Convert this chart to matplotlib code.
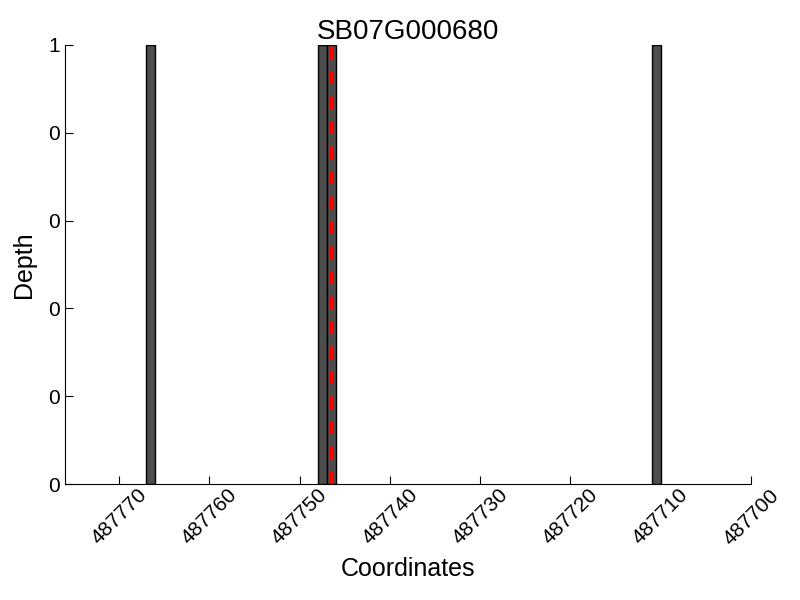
import matplotlib
matplotlib.use("Agg")
import matplotlib.pyplot as plt
from matplotlib.ticker import FormatStrFormatter

plt.rcParams["font.family"] = ["Liberation Sans", "DejaVu Sans"]

# datos
title = "SB07G000680"
positions = [487766, 487747, 487746, 487710]
depths = [1, 1, 1, 1]
marker_pos = 487746.5
x_ticks = [487770, 487760, 487750, 487740, 487730, 487720, 487710, 487700]
y_ticks = [0, 0.2, 0.4, 0.6, 0.8, 1.0]

fig = plt.figure(figsize=(8, 6), dpi=100)
ax = fig.add_axes([0.08125, 0.1933, 0.8575, 0.7317])

ax.bar(positions, depths, width=1, align="edge", color="#4d4d4d",
       edgecolor="black", linewidth=1)
ax.axvline(marker_pos, color="red", linestyle=(0, (3, 3)), linewidth=3)

ax.set_xlim(487776, 487700)
ax.set_ylim(0, 1)
ax.set_xticks(x_ticks)
ax.set_xticklabels([str(t) for t in x_ticks], rotation=45)
ax.set_yticks(y_ticks)
ax.yaxis.set_major_formatter(FormatStrFormatter("%d"))

for s in ("top", "right"):
    ax.spines[s].set_visible(False)
ax.tick_params(direction="in", labelsize=15, length=6)
ax.tick_params(axis="x", pad=1)

ax.set_title(title, fontsize=20, pad=2)
ax.set_xlabel("Coordinates", fontsize=18, labelpad=6)
ax.set_ylabel("Depth", fontsize=18, labelpad=9)

fig.savefig("out.png", dpi=100)
